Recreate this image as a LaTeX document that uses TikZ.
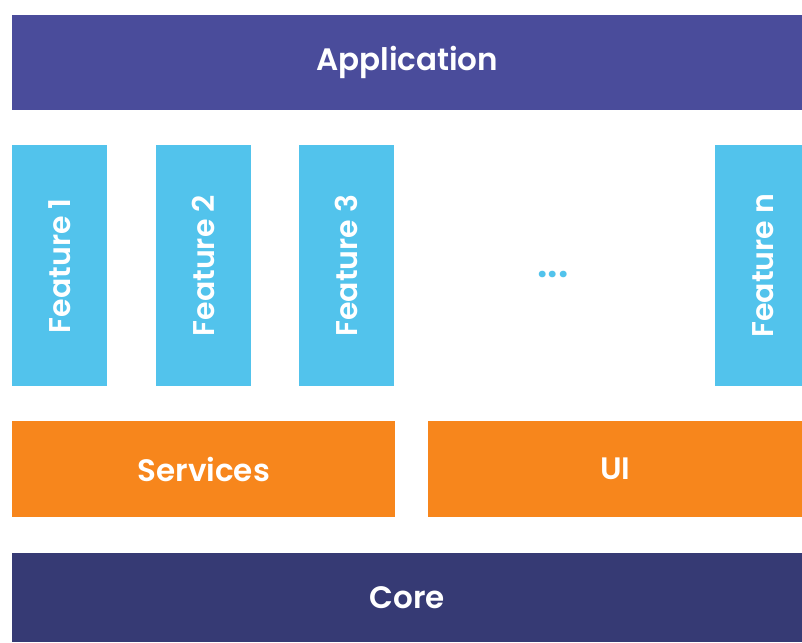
\documentclass[tikz,border=0pt]{standalone}
\usepackage{fontspec}
\setmainfont{Poppins}
\newfontfamily\boxfont{Poppins SemiBold}
\definecolor{AppBlue}{HTML}{4A4C9B}
\definecolor{FeatCyan}{HTML}{52C3EC}
\definecolor{LayerOrange}{HTML}{F7861C}
\definecolor{CoreNavy}{HTML}{363A74}
\begin{document}
\begin{tikzpicture}[x=1pt,y=-1pt,
    block/.style={anchor=north west,inner sep=0pt,text=white,
      font=\boxfont\fontsize{31}{34}\selectfont},
    feature/.style={block,fill=FeatCyan,minimum width=95pt,
      minimum height=241pt},
    featlabel/.style={rotate=90,text=white,
      font=\boxfont\fontsize{30}{33}\selectfont}]
  \coordinate (A) at (0,0); \coordinate (B) at (802,642);
  \path[use as bounding box,fill=white] (A) rectangle (B);
  % top and bottom bars
  \node[block,fill=AppBlue,minimum width=790pt,minimum height=95pt]
    (app) at (12,15) {Application};
  \node[block,fill=CoreNavy,minimum width=790pt,minimum height=89pt]
    (core) at (12,553) {Core};
  % the middle layer
  \node[block,fill=LayerOrange,minimum width=383pt,minimum height=96pt]
    (services) at (12,421) {Services};
  \node[block,fill=LayerOrange,minimum width=374pt,minimum height=96pt]
    (ui) at (428,421) {UI};
  % feature columns
  \foreach \fx/\fname in {12/1,155.5/2,299/3} {
    \node[feature] (feat\fname) at (\fx,145) {};
    \node[featlabel] at (feat\fname.center) {Feature \fname};
  }
  \node[feature,minimum width=87pt] (featn) at (715,145) {};
  \node[featlabel] at ([xshift=4pt]featn.center) {Feature n};
  \node[anchor=base,inner sep=0pt,text=FeatCyan,
    font=\boxfont\fontsize{40}{44}\selectfont] (dots) at (553,277) {...};
\end{tikzpicture}
\end{document}
